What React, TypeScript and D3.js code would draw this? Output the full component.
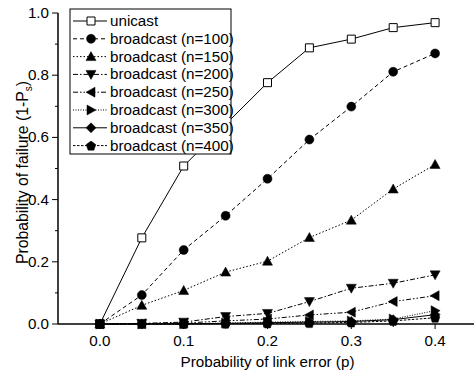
import React from 'react';
import * as d3 from 'd3';

// x values (probability of link error)
const pAll = [0, 0.05, 0.1, 0.15, 0.2, 0.25, 0.3, 0.35, 0.4];
const pUnicast = [0, 0.05, 0.1, 0.2, 0.25, 0.3, 0.35, 0.4];

const unicast = [0, 0.277, 0.508, 0.776, 0.888, 0.916, 0.953, 0.969];
const bc100 = [0, 0.093, 0.238, 0.348, 0.467, 0.593, 0.699, 0.811, 0.87];
const bc150 = [0, 0.06, 0.108, 0.167, 0.202, 0.278, 0.334, 0.434, 0.513];
const bc200 = [0, 0.002, 0.006, 0.024, 0.034, 0.072, 0.115, 0.131, 0.158];
const bc250 = [0, 0.001, 0.003, 0.01, 0.016, 0.029, 0.038, 0.072, 0.091];
const bc300 = [0, 0, 0.001, 0.003, 0.006, 0.008, 0.01, 0.016, 0.043];
const bc350 = [0, 0, 0, 0.002, 0.004, 0.006, 0.008, 0.014, 0.03];
const bc400 = [0, 0, 0, 0.001, 0.002, 0.003, 0.005, 0.01, 0.02];

const legendLabels = [
  'unicast',
  'broadcast (n=100)',
  'broadcast (n=150)',
  'broadcast (n=200)',
  'broadcast (n=250)',
  'broadcast (n=300)',
  'broadcast (n=350)',
  'broadcast (n=400)'
];

const xTicks = [0, 0.1, 0.2, 0.3, 0.4];
const yTicks = [0, 0.2, 0.4, 0.6, 0.8, 1.0];

const FONT = '"Liberation Sans", Arial, sans-serif';
const FS = 15.2;

function marker(kind: string, s: number) {
  // path centred on 0,0
  const r = s / 2;
  switch (kind) {
    case 'square':
      return `M${-r},${-r}H${r}V${r}H${-r}Z`;
    case 'circle':
      return d3.symbol(d3.symbolCircle, Math.PI * r * r)() as string;
    case 'up':
      return `M0,${-r}L${r},${r * 0.8}L${-r},${r * 0.8}Z`;
    case 'down':
      return `M0,${r}L${r},${-r * 0.8}L${-r},${-r * 0.8}Z`;
    case 'left':
      return `M${-r},0L${r * 0.8},${-r}L${r * 0.8},${r}Z`;
    case 'right':
      return `M${r},0L${-r * 0.8},${-r}L${-r * 0.8},${r}Z`;
    case 'diamond':
      return `M0,${-r}L${r},0L0,${r}L${-r},0Z`;
    case 'pentagon': {
      const pts = d3.range(5).map(i => {
        const a = -Math.PI / 2 + (i * 2 * Math.PI) / 5;
        return [r * Math.cos(a), r * Math.sin(a) + 0.5];
      });
      return 'M' + pts.map(p => p.join(',')).join('L') + 'Z';
    }
  }
  return '';
}

export default function App() {
  const width = 474, height = 373;
  const x = d3.scaleLinear().domain([-0.05, 0.45]).range([58, 477]);
  const y = d3.scaleLinear().domain([0, 1]).range([324, 13]);

  const series = [
    { xs: pUnicast, ys: unicast, kind: 'square', dash: '', fill: 'white', size: 8 },
    { xs: pAll, ys: bc100, kind: 'circle', dash: '4,3', fill: 'black', size: 9 },
    { xs: pAll, ys: bc150, kind: 'up', dash: '1.5,2', fill: 'black', size: 10 },
    { xs: pAll, ys: bc200, kind: 'down', dash: '5,2,1.5,2', fill: 'black', size: 10 },
    { xs: pAll, ys: bc250, kind: 'left', dash: '5,2,1.5,2,1.5,2', fill: 'black', size: 10 },
    { xs: pAll, ys: bc300, kind: 'right', dash: '1,1.5', fill: 'black', size: 10 },
    { xs: pAll, ys: bc350, kind: 'diamond', dash: '', fill: 'black', size: 10 },
    { xs: pAll, ys: bc400, kind: 'pentagon', dash: '2.5,1.5', fill: 'black', size: 10 }
  ];

  const line = d3.line<[number, number]>()
    .x(d => x(d[0]))
    .y(d => y(d[1]));

  const minorX = d3.range(0, 0.451, 0.05);
  const minorY = d3.range(0.1, 1, 0.2);

  const lgX = 70, lgY = 9, lgW = 161, lgH = 145, rowH = 17.8;

  return (
    <svg width={width} height={height} style={{ position: 'absolute', left: 0, top: 0 }}
      fontFamily={FONT}>
      <rect width={width} height={height} fill="white" />

      {series.map((s, i) => (
        <g key={i}>
          <path d={line(s.xs.map((v, j) => [v, s.ys[j]]) as [number, number][]) || ''}
            fill="none" stroke="black" strokeWidth={1} strokeDasharray={s.dash} />
          {s.xs.map((v, j) => (
            <path key={j} d={marker(s.kind, s.size)}
              transform={`translate(${x(v)},${y(s.ys[j])})`}
              fill={s.fill} stroke="black" strokeWidth={s.fill === 'white' ? 1 : 0.5} />
          ))}
        </g>
      ))}

      {/* axes */}
      <line x1={58} x2={474} y1={y(0)} y2={y(0)} stroke="black" strokeWidth={1.5} />
      <line x1={58} x2={58} y1={y(0)} y2={y(1)} stroke="black" strokeWidth={1.5} />
      {minorX.map((t, i) => (
        <line key={'mx' + i} x1={x(t)} x2={x(t)} y1={y(0)} y2={y(0) + (i % 2 === 0 ? 5 : 3)}
          stroke="black" strokeWidth={1} />
      ))}
      {xTicks.map(t => (
        <text key={'xt' + t} x={x(t)} y={346} textAnchor="middle" fontSize={FS}>
          {d3.format('.1f')(t)}
        </text>
      ))}
      {yTicks.map(t => (
        <g key={'yt' + t}>
          <line x1={52} x2={58} y1={y(t)} y2={y(t)} stroke="black" strokeWidth={1} />
          <text x={49} y={y(t) + 5} textAnchor="end" fontSize={FS}>{d3.format('.1f')(t)}</text>
        </g>
      ))}
      {minorY.map((t, i) => (
        <line key={'my' + i} x1={55} x2={58} y1={y(t)} y2={y(t)} stroke="black" strokeWidth={1} />
      ))}

      <text x={x(0.2)} y={367} textAnchor="middle" fontSize={FS}>Probability of link error (p)</text>
      <text transform={`translate(28,${y(0.5) + 4}) rotate(-90)`} textAnchor="middle" fontSize={FS + 0.6}>
        Probability of failure (1-P<tspan fontSize={10} dy={4}>s</tspan><tspan dy={-4}>)</tspan>
      </text>

      {/* legend */}
      <rect x={lgX} y={lgY} width={lgW} height={lgH} fill="white" stroke="black" strokeWidth={1} />
      {series.map((s, i) => {
        const cy = lgY + 12 + i * rowH;
        return (
          <g key={'lg' + i}>
            <line x1={lgX + 3} x2={lgX + 37} y1={cy} y2={cy} stroke="black" strokeWidth={1}
              strokeDasharray={s.dash} />
            <path d={marker(s.kind, s.size)} transform={`translate(${lgX + 21},${cy})`}
              fill={s.fill} stroke="black" strokeWidth={s.fill === 'white' ? 1 : 0.5} />
            <text x={lgX + 40} y={cy + 5} fontSize={FS}>{legendLabels[i]}</text>
          </g>
        );
      })}
    </svg>
  );
}
